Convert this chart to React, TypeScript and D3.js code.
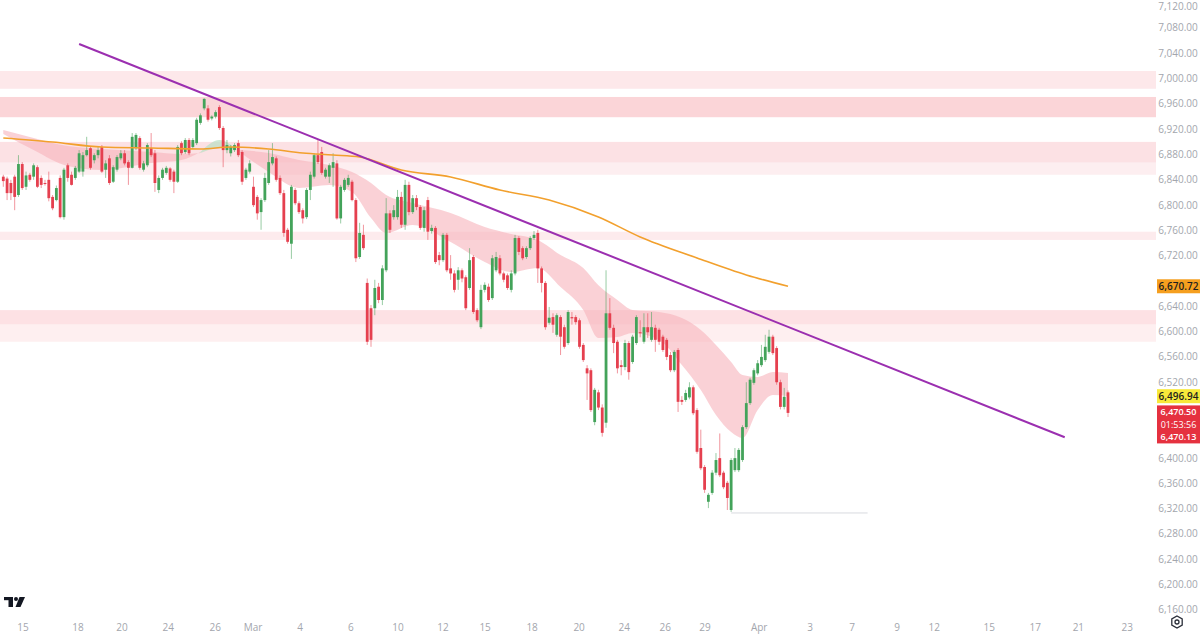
import React from "react";
import * as d3 from "d3";

const W = 1200;
const H = 636;

// Each bar: [open, close, high, low]
const candlesOCHL: [number, number, number, number][] = [
  [6844,6837,6847,6828],[6841,6818,6844,6807],[6834,6818,6839,6807],[6844,6812,6847,6791],
  [6815,6864,6878,6812],[6864,6826,6867,6823],[6828,6846,6852,6823],[6847,6839,6850,6836],
  [6844,6862,6865,6839],[6859,6828,6862,6826],[6842,6831,6846,6826],[6834,6833,6839,6830],
  [6839,6810,6852,6805],[6812,6794,6815,6791],[6807,6826,6830,6805],[6842,6780,6846,6778],
  [6780,6855,6858,6776],[6862,6842,6865,6836],[6847,6831,6852,6830],[6842,6858,6861,6839],
  [6852,6881,6886,6850],[6852,6878,6883,6844],[6878,6886,6907,6876],[6889,6858,6892,6855],
  [6870,6878,6881,6865],[6878,6886,6891,6873],[6891,6852,6894,6850],[6855,6865,6870,6842],
  [6873,6834,6878,6831],[6836,6859,6862,6834],[6855,6875,6878,6852],[6873,6881,6886,6870],
  [6881,6865,6886,6862],[6867,6858,6870,6831],[6858,6907,6913,6857],[6889,6910,6913,6886],
  [6905,6858,6908,6855],[6855,6865,6869,6852],[6862,6894,6897,6859],[6889,6878,6913,6875],
  [6881,6834,6886,6820],[6823,6842,6846,6818],[6842,6855,6858,6839],[6850,6858,6861,6847],
  [6857,6839,6859,6836],[6852,6836,6855,6818],[6836,6891,6894,6834],[6897,6881,6900,6878],
  [6883,6902,6905,6880],[6902,6881,6905,6878],[6891,6902,6905,6888],[6897,6934,6937,6894],
  [6929,6941,6944,6926],[6952,6967,6968,6949],[6952,6934,6957,6931],[6936,6939,6941,6933],
  [6939,6946,6949,6936],[6954,6921,6957,6918],[6921,6886,6924,6859],[6886,6894,6902,6881],
  [6881,6891,6894,6876],[6886,6894,6897,6883],[6897,6878,6902,6875],[6883,6836,6886,6831],
  [6842,6855,6858,6839],[6852,6865,6870,6849],[6828,6799,6844,6796],[6812,6786,6815,6776],
  [6788,6807,6810,6760],[6807,6842,6850,6804],[6834,6867,6886,6831],[6865,6875,6897,6862],
  [6873,6839,6876,6836],[6842,6818,6846,6815],[6818,6755,6823,6749],[6760,6741,6763,6738],
  [6738,6828,6831,6714],[6823,6802,6826,6799],[6802,6788,6805,6785],[6791,6778,6794,6770],
  [6780,6823,6826,6777],[6823,6847,6852,6807],[6844,6878,6881,6841],[6878,6867,6902,6864],
  [6883,6850,6891,6847],[6844,6855,6858,6841],[6844,6862,6865,6834],[6858,6867,6881,6828],
  [6865,6778,6870,6776],[6778,6828,6831,6770],[6823,6839,6842,6820],[6831,6842,6847,6828],
  [6836,6807,6839,6805],[6807,6715,6810,6709],[6717,6755,6771,6714],[6752,6731,6768,6728],
  [6676,6583,6683,6578],[6636,6586,6641,6575],[6636,6668,6681,6625],[6670,6649,6676,6644],
  [6649,6699,6704,6641],[6696,6786,6810,6693],[6786,6760,6791,6755],[6780,6791,6799,6776],
  [6780,6812,6823,6776],[6812,6768,6820,6763],[6768,6831,6839,6760],[6831,6788,6836,6783],
  [6788,6810,6815,6785],[6810,6796,6815,6791],[6796,6763,6799,6760],[6763,6791,6796,6757],
  [6807,6757,6812,6744],[6758,6763,6768,6754],[6763,6709,6766,6706],[6720,6712,6725,6704],
  [6712,6752,6755,6709],[6752,6696,6755,6693],[6699,6691,6720,6681],[6691,6665,6696,6661],
  [6681,6696,6701,6665],[6696,6683,6699,6677],[6685,6636,6688,6633],[6668,6712,6731,6665],
  [6717,6630,6720,6627],[6633,6617,6636,6614],[6606,6665,6673,6603],[6665,6673,6677,6661],
  [6670,6649,6675,6646],[6652,6715,6720,6649],[6696,6717,6725,6693],[6715,6691,6720,6688],
  [6691,6681,6694,6677],[6688,6668,6691,6665],[6665,6691,6696,6661],[6691,6747,6752,6688],
  [6747,6725,6750,6720],[6731,6715,6734,6712],[6717,6731,6734,6714],[6731,6747,6750,6728],
  [6747,6752,6758,6744],[6755,6699,6760,6676],[6699,6676,6702,6661],[6676,6606,6679,6602],
  [6613,6621,6638,6610],[6622,6610,6628,6597],[6594,6625,6628,6591],[6622,6591,6625,6562],
  [6606,6575,6610,6572],[6581,6630,6633,6578],[6622,6620,6630,6610],[6622,6614,6625,6610],
  [6617,6575,6620,6572],[6578,6554,6581,6551],[6541,6533,6546,6491],[6538,6475,6541,6472],
  [6456,6507,6510,6451],[6503,6479,6507,6475],[6479,6439,6484,6433],[6455,6628,6696,6447],
  [6628,6605,6652,6602],[6605,6581,6610,6565],[6583,6541,6586,6533],[6546,6543,6554,6530],
  [6543,6581,6586,6538],[6581,6535,6584,6523],[6551,6591,6594,6548],[6581,6622,6625,6578],
  [6598,6597,6617,6590],[6583,6606,6628,6580],[6606,6598,6628,6589],[6586,6606,6630,6583],
  [6605,6586,6610,6567],[6602,6583,6605,6578],[6591,6570,6594,6567],[6586,6559,6589,6554],
  [6562,6538,6567,6535],[6538,6567,6570,6535],[6570,6488,6573,6472],[6491,6488,6497,6483],
  [6491,6502,6507,6488],[6495,6511,6519,6492],[6511,6470,6514,6467],[6475,6409,6478,6406],
  [6415,6383,6444,6380],[6385,6349,6388,6344],[6330,6341,6344,6320],[6344,6376,6380,6341],
  [6376,6396,6407,6372],[6399,6372,6438,6369],[6376,6353,6379,6350],[6360,6336,6363,6317],
  [6317,6396,6399,6314],[6380,6399,6415,6377],[6380,6412,6415,6377],[6396,6448,6451,6393],
  [6448,6486,6519,6445],[6486,6523,6526,6483],[6518,6538,6541,6515],[6533,6549,6554,6530],
  [6546,6559,6578,6543],[6554,6575,6594,6551],[6567,6591,6602,6564],[6591,6565,6594,6562],
  [6573,6519,6576,6515],[6519,6480,6523,6476],[6480,6496,6510,6476],[6503,6470.5,6506,6464],
];

// EMA ribbon samples (bar index, fast, slow)
const ribbonIdx = [0, 8, 17, 26, 39, 47, 52, 57, 62, 70, 78, 86, 92, 97, 101, 108, 118, 127, 134, 141, 147, 153, 157, 162, 166, 173, 179, 184, 188, 192, 195, 199, 203, 207];
const emaFast = [6911.5, 6886.2, 6860.8, 6854.5, 6865.6, 6870.3, 6883.0, 6902.0, 6884.6, 6851.4, 6826.1, 6830.8, 6819.7, 6778.6, 6755.0, 6767.6, 6740.7, 6709.1, 6693.2, 6699.6, 6669.5, 6633.2, 6589.0, 6590.5, 6596.9, 6585.8, 6546.2, 6506.7, 6467.2, 6440.3, 6430.8, 6475.1, 6498.8, 6496.94];
const emaSlow = [6917.8, 6905.2, 6892.5, 6887.8, 6883.0, 6879.9, 6881.4, 6889.4, 6886.2, 6881.4, 6870.3, 6862.4, 6851.4, 6834.0, 6815.0, 6802.3, 6786.6, 6764.4, 6753.4, 6743.9, 6720.2, 6699.6, 6672.2, 6649.0, 6633.2, 6630.0, 6620.5, 6601.6, 6577.9, 6551.0, 6530.4, 6527.3, 6535.2, 6533.6];

// 200-period moving average samples
const maIdx = [0, 13, 26, 39, 52, 60, 70, 79, 87, 94, 105, 118, 131, 144, 157, 168, 183, 196, 207];
const ma200 = [6905.2, 6898.8, 6890.9, 6889.4, 6887.8, 6890.9, 6887.8, 6881.4, 6878.3, 6875.1, 6854.5, 6843.4, 6822.9, 6807.1, 6780.3, 6748.7, 6715.5, 6688.6, 6670.72];

// Trend line (bar index, price)
const trendIdx = [20, 280];
const trendPrice = [7053.8, 6432.0];

// Horizontal zones (high, low)
const zoneHigh = [7011, 6970, 6899, 6866, 6757, 6633, 6610];
const zoneLow = [6983, 6938, 6866, 6847, 6744, 6610, 6583];
const zoneFill = ["#fde8ea", "#fbd5d8", "#fce1e4", "#fdeef0", "#fdebed", "#fde1e4", "#feeff0"];

// Low marker line
const lowLineIdx = [192, 228];
const lowLinePrice = 6312.3;

const priceTicks = [6160, 6200, 6240, 6280, 6320, 6360, 6400, 6440, 6480, 6520, 6560, 6600, 6640, 6680, 6720, 6760, 6800, 6840, 6880, 6920, 6960, 7000, 7040, 7080, 7120];

const timeTickIdx = [5.2, 19.7, 31.3, 43.5, 55.9, 65.9, 78.3, 91.7, 104.1, 116, 127.1, 139.5, 151.9, 163.8, 174.6, 185.1, 199.4, 212.8, 223.9, 235.8, 245.6, 260.1, 272.2, 283.6, 296.5];
const timeTickLabels = ["15", "18", "20", "24", "26", "Mar", "4", "6", "10", "12", "15", "18", "20", "24", "26", "29", "Apr", "3", "7", "9", "12", "15", "17", "21", "23"];

const lastClose = 6470.5;
const lastPrev = 6470.13;
const countdown = "01:53:56";

const GREEN = "#43a35a";
const RED = "#e5404f";
const FONT = "'Open Sans', 'Liberation Sans', sans-serif";

export default function App() {
  const x = d3.scaleLinear().domain([0, 207]).range([3.3, 788]);
  const y = d3.scaleLinear().domain([6160, 7120]).range([609.3, 2.1]);
  const plotRight = 1156;
  const fmt = d3.format(",.2f");

  const ribbonPts = ribbonIdx.map((i, k) => ({ i, f: emaFast[k], s: emaSlow[k] }));
  const area = d3
    .area<{ i: number; f: number; s: number }>()
    .x((d) => x(d.i))
    .y0((d) => y(d.s))
    .y1((d) => y(d.f))
    .curve(d3.curveMonotoneX);
  const pink1 = ribbonPts.slice(0, 7);
  const green = ribbonPts.slice(6, 9);
  const pink2 = ribbonPts.slice(8);

  const maLine = d3
    .line<number>()
    .x((_, k) => x(maIdx[k]))
    .y((d) => y(d))
    .curve(d3.curveMonotoneX);

  const bodyW = 2.8;

  const maLast = ma200[ma200.length - 1];
  const fastLast = emaFast[emaFast.length - 1];
  const boxTop = y(lastClose) - 7.5;

  // boxes on the price axis hide the tick labels underneath
  const boxes = [
    [y(maLast) - 7, y(maLast) + 7],
    [y(fastLast) - 7, y(fastLast) + 7],
    [boxTop, boxTop + 38],
  ];
  const hidden = (p: number) => boxes.some(([a, b]) => y(p) > a - 5 && y(p) < b + 5);

  return (
    <svg
      width={W}
      height={H}
      style={{ position: "absolute", left: 0, top: 0, background: "#ffffff" }}
      fontFamily={FONT}
    >
      <rect x={0} y={0} width={W} height={H} fill="#ffffff" />
      {zoneHigh.map((hi, k) => (
        <rect
          key={"z" + k}
          x={0}
          y={y(hi)}
          width={plotRight}
          height={y(zoneLow[k]) - y(hi)}
          fill={zoneFill[k]}
        />
      ))}
      <path d={area(pink1) || ""} fill="#f6b3ba" fillOpacity={0.6} />
      <path d={area(pink2) || ""} fill="#f6b3ba" fillOpacity={0.6} />
      <path d={area(green) || ""} fill="#b9dfc3" fillOpacity={0.7} />

      <line
        x1={x(lowLineIdx[0])}
        x2={x(lowLineIdx[1])}
        y1={y(lowLinePrice)}
        y2={y(lowLinePrice)}
        stroke="#d8dadf"
        strokeWidth={1}
      />

      {candlesOCHL.map(([o, c, h, l], i) => {
        const up = c >= o;
        const col = up ? GREEN : RED;
        const hi = Math.max(h, o, c);
        const lo = Math.min(l, o, c);
        const top = y(Math.max(o, c));
        const bot = y(Math.min(o, c));
        const cx = x(i);
        return (
          <g key={"c" + i}>
            <line x1={cx} x2={cx} y1={y(hi)} y2={y(lo)} stroke={col} strokeOpacity={0.55} strokeWidth={1} />
            <rect x={cx - bodyW / 2} y={top} width={bodyW} height={Math.max(1, bot - top)} fill={col} />
          </g>
        );
      })}

      <path d={maLine(ma200) || ""} fill="none" stroke="#f2a02d" strokeWidth={1.6} />

      <line
        x1={x(trendIdx[0])}
        y1={y(trendPrice[0])}
        x2={x(trendIdx[1])}
        y2={y(trendPrice[1])}
        stroke="#9b2fb0"
        strokeWidth={2}
      />

      {/* price axis */}
      {priceTicks.filter((p) => !hidden(p)).map((p) => (
        <text
          key={"p" + p}
          x={1178}
          y={Math.max(y(p), 6)}
          textAnchor="middle"
          dominantBaseline="central"
          fontSize={10}
          fill="#a3a6ad"
        >
          {fmt(p)}
        </text>
      ))}

      <rect x={1157} y={y(maLast) - 7} width={43} height={14} fill="#f59f1f" />
      <text x={1178.5} y={y(maLast)} textAnchor="middle" dominantBaseline="central" fontSize={10} fontWeight={600} fill="#1e1e1e">
        {fmt(maLast)}
      </text>

      <rect x={1157} y={y(fastLast) - 7} width={43} height={14} fill="#f8e93a" />
      <text x={1178.5} y={y(fastLast)} textAnchor="middle" dominantBaseline="central" fontSize={10} fontWeight={600} fill="#1e1e1e">
        {fmt(fastLast)}
      </text>

      <rect x={1157} y={boxTop} width={43} height={38} fill="#e5313f" />
      <text x={1178.5} y={boxTop + 6.5} textAnchor="middle" dominantBaseline="central" fontSize={9} fontWeight={600} fill="#ffffff">
        {fmt(lastClose)}
      </text>
      <text x={1178.5} y={boxTop + 19} textAnchor="middle" dominantBaseline="central" fontSize={9} fill="#ffffff">
        {countdown}
      </text>
      <text x={1178.5} y={boxTop + 31.5} textAnchor="middle" dominantBaseline="central" fontSize={9} fontWeight={600} fill="#ffffff">
        {fmt(lastPrev)}
      </text>

      {/* time axis */}
      {timeTickIdx.map((t, k) => (
        <text
          key={"t" + k}
          x={x(t)}
          y={627}
          textAnchor="middle"
          dominantBaseline="central"
          fontSize={10}
          fill="#a3a6ad"
        >
          {timeTickLabels[k]}
        </text>
      ))}

      {/* logo */}
      <g fill="#131722">
        <rect x={4} y={597} width={9} height={3.2} />
        <rect x={8.5} y={597} width={4.5} height={10} />
        <circle cx={16} cy={599} r={2} />
        <path d="M19.5,597 L25,597 L20.5,607 L15.5,607 Z" />
      </g>

      {/* settings icon */}
      <g fill="none" stroke="#2a2e39" strokeWidth={1.3}>
        <path d="M1177,616 L1182.2,619 L1182.2,625 L1177,628 L1171.8,625 L1171.8,619 Z" />
        <circle cx={1177} cy={622} r={2} />
      </g>
    </svg>
  );
}
